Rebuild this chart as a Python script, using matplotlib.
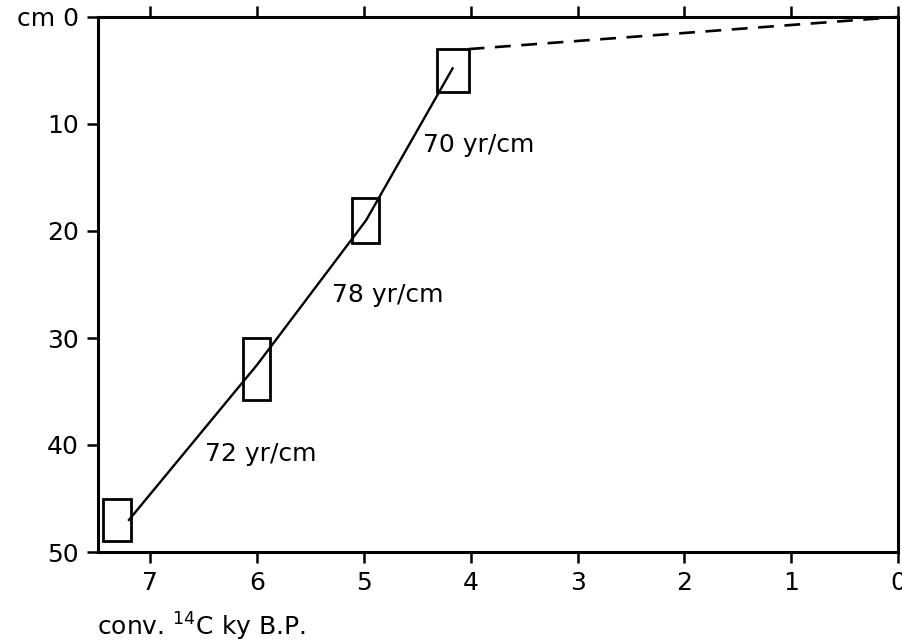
import matplotlib
matplotlib.use("Agg")
from matplotlib import pyplot as plt
from matplotlib.patches import Rectangle

# radiocarbon dated samples: age range (ky B.P.) and depth range (cm)
box_age_young = [4.02, 4.86, 5.88, 7.18]
box_age_old = [4.32, 5.11, 6.13, 7.44]
box_depth_top = [3.0, 16.9, 30.0, 45.0]
box_depth_bot = [7.0, 21.1, 35.8, 49.0]

# age-depth curve
curve_age = [7.20, 6.00, 4.98, 4.17]
curve_depth = [47.0, 32.5, 19.0, 4.8]

# extrapolation to the surface
extra_age = [4.02, 0.0]
extra_depth = [3.0, 0.0]

rate_labels = ["70 yr/cm", "78 yr/cm", "72 yr/cm"]
rate_age = [4.45, 5.30, 6.49]
rate_depth = [12.0, 26.0, 40.8]

xticks = [7, 6, 5, 4, 3, 2, 1, 0]
yticks = [0, 10, 20, 30, 40, 50]
ylabels = ["cm 0", "10", "20", "30", "40", "50"]

plt.rcParams['font.family'] = ['DejaVu Sans']

fig = plt.figure(figsize=(9.03, 6.44), dpi=100)
ax = fig.add_axes([98/903, 1-552/644, 800/903, 535/644])

for a0, a1, d0, d1 in zip(box_age_young, box_age_old, box_depth_top, box_depth_bot):
    ax.add_patch(Rectangle((a0, d0), a1 - a0, d1 - d0, fill=False,
                           edgecolor='black', linewidth=2))

ax.plot(curve_age, curve_depth, color='black', linewidth=1.7)
ax.plot(extra_age, extra_depth, color='black', linewidth=1.9,
        linestyle=(0, (6, 4)), clip_on=False)

for lab, x, y in zip(rate_labels, rate_age, rate_depth):
    ax.text(x, y, lab, fontsize=18, ha='left', va='center')

ax.set_xlim(7.49, 0)
ax.set_ylim(50, 0)
ax.set_xticks(xticks)
ax.set_xticklabels([str(t) for t in xticks], fontsize=18)
ax.set_yticks(yticks)
ax.set_yticklabels(ylabels, fontsize=18)
ax.tick_params(axis='both', direction='out', length=8, width=1.8, pad=6)
ax.tick_params(axis='x', top=True, labeltop=False)
for s in ax.spines.values():
    s.set_linewidth(2.2)

fig.text(97/903, 1-627/644, "conv. $^{14}$C ky B.P.", fontsize=18,
         ha='left', va='center')

fig.savefig("out.png", dpi=100, facecolor='white')
